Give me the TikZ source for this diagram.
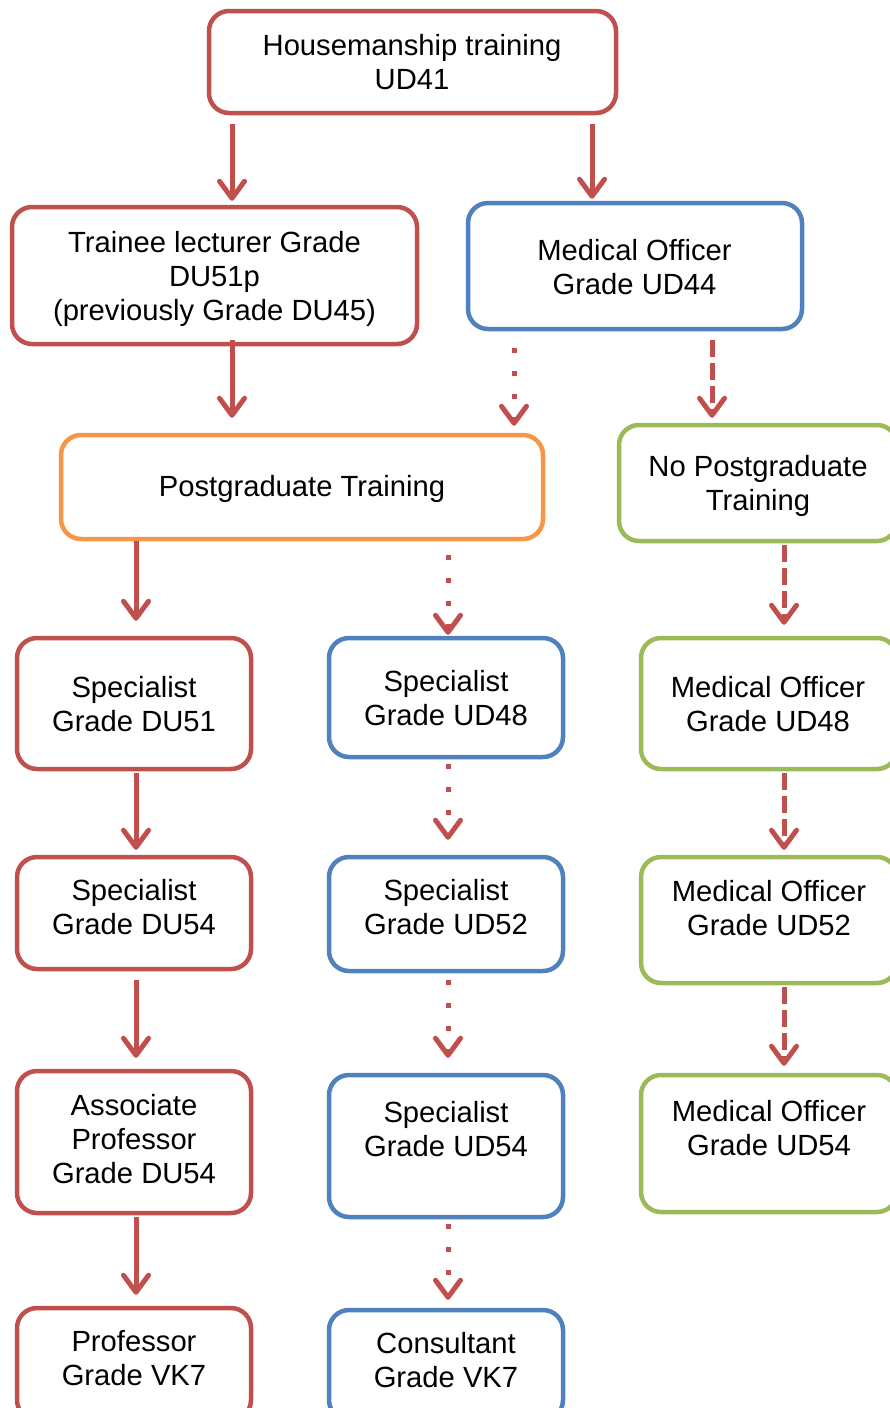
\documentclass[tikz,border=0pt]{standalone}
\usepackage{fontspec}
\setmainfont{Liberation Sans}
\usetikzlibrary{arrows.meta}
\definecolor{boxred}{HTML}{C0504D}
\definecolor{boxblue}{HTML}{4F81BD}
\definecolor{boxorange}{HTML}{F79646}
\definecolor{boxgreen}{HTML}{9BBB59}
\definecolor{linkred}{HTML}{C0504D}
\tikzset{
  gradebox/.style={draw=#1, line width=4.5pt, rounded corners=20pt, fill=white, inner sep=0pt},
  gradetext/.style={align=center, inner sep=0pt, text=black, font=\fontsize{29.2}{34}\selectfont},
  link/.style={draw=linkred, line width=5pt,
    -{Straight Barb[length=17pt,width=25pt,line cap=round,line join=round]}},
  solidlink/.style={link},
  dottedlink/.style={link, dash pattern=on 5pt off 18pt},
  dashedlink/.style={link, dash pattern=on 17pt off 6pt},
}
\begin{document}
\begin{tikzpicture}[x=1pt, y=-1pt]
\useasboundingbox (0,0) rectangle (890,1408);
\clip (0,0) rectangle (890,1408);

% ---- boxes ----
\node[gradebox=boxred,    minimum width=407pt, minimum height=102pt] (hm)    at (412.5,62)   {};
\node[gradebox=boxred,    minimum width=405pt, minimum height=137pt] (tr)    at (214.5,275.5) {};
\node[gradebox=boxblue,   minimum width=334pt, minimum height=126pt] (mo44)  at (635,266)    {};
\node[gradebox=boxorange, minimum width=482pt, minimum height=104pt] (pg)    at (302,487)    {};
\node[gradebox=boxgreen,  minimum width=278pt, minimum height=116pt] (npg)   at (758,483)    {};

\node[gradebox=boxred,    minimum width=234pt, minimum height=131pt] (du51)  at (134,703.5)  {};
\node[gradebox=boxblue,   minimum width=234pt, minimum height=119pt] (ud48)  at (446,697.5)  {};
\node[gradebox=boxgreen,  minimum width=256pt, minimum height=131pt] (mo48)  at (769,703.5)  {};

\node[gradebox=boxred,    minimum width=234pt, minimum height=112pt] (du54)  at (134,913)    {};
\node[gradebox=boxblue,   minimum width=234pt, minimum height=114pt] (ud52)  at (446,914)    {};
\node[gradebox=boxgreen,  minimum width=256pt, minimum height=126pt] (mo52)  at (769,920)    {};

\node[gradebox=boxred,    minimum width=234pt, minimum height=142pt] (assoc) at (134,1142)   {};
\node[gradebox=boxblue,   minimum width=234pt, minimum height=142pt] (ud54)  at (446,1146)   {};
\node[gradebox=boxgreen,  minimum width=256pt, minimum height=137pt] (mo54)  at (769,1143.5) {};

\node[gradebox=boxred,    minimum width=234pt, minimum height=112pt] (prof)  at (134,1364)   {};
\node[gradebox=boxblue,   minimum width=234pt, minimum height=110pt] (cons)  at (446,1365)   {};

% ---- box texts ----
\node[gradetext] (hm-t)    at (412,66)     {\strut Housemanship training\\\strut UD41};
\node[gradetext] (tr-t)    at (214.5,279.5){\strut Trainee lecturer Grade\\\strut DU51p\\\strut (previously Grade DU45)};
\node[gradetext] (mo44-t)  at (634.5,270.5){\strut Medical Officer\\\strut Grade UD44};
\node[gradetext] (pg-t)    at (302,490)    {\strut Postgraduate Training};
\node[gradetext] (npg-t)   at (758,487)    {\strut No Postgraduate\\\strut Training};
\node[gradetext] (du51-t)  at (134,708)    {\strut Specialist\\\strut Grade DU51};
\node[gradetext] (ud48-t)  at (446,702)    {\strut Specialist\\\strut Grade UD48};
\node[gradetext] (mo48-t)  at (768,708)    {\strut Medical Officer\\\strut Grade UD48};
\node[gradetext] (du54-t)  at (134,910.5)  {\strut Specialist\\\strut Grade DU54};
\node[gradetext] (ud52-t)  at (446,910.5)  {\strut Specialist\\\strut Grade UD52};
\node[gradetext] (mo52-t)  at (769,912)    {\strut Medical Officer\\\strut Grade UD52};
\node[gradetext] (assoc-t) at (134,1143)   {\strut Associate\\\strut Professor\\\strut Grade DU54};
\node[gradetext] (ud54-t)  at (446,1133)   {\strut Specialist\\\strut Grade UD54};
\node[gradetext] (mo54-t)  at (769,1131.5) {\strut Medical Officer\\\strut Grade UD54};
\node[gradetext] (prof-t)  at (134,1362)   {\strut Professor\\\strut Grade VK7};
\node[gradetext] (cons-t)  at (446,1364)   {\strut Consultant\\\strut Grade VK7};

% ---- connectors ----
\draw[solidlink,  shorten <=9pt,  shorten >=4pt]  (hm.south -| 232,0)   -- (tr.north -| 232,0);
\draw[solidlink,  shorten <=9pt,  shorten >=2pt]  (hm.south -| 592,0)   -- (mo44.north -| 592,0);
\draw[solidlink,  shorten <=-6pt, shorten >=15pt] (tr.south -| 232,0)   -- (pg.north -| 232,0);
\draw[dottedlink, shorten <=17pt, shorten >=7pt]  (mo44.south -| 514,0) -- (pg.north -| 514,0);
\draw[dashedlink, shorten <=9pt,  shorten >=5pt]  (mo44.south -| 712,0) -- (npg.north -| 712,0);

\draw[solidlink,  shorten <=0pt,  shorten >=15pt] (pg.south -| 136,0)   -- (du51.north -| 136,0);
\draw[dottedlink, shorten <=14pt, shorten >=1pt]  (pg.south -| 448,0)   -- (ud48.north -| 448,0);
\draw[dashedlink, shorten <=2pt,  shorten >=11pt] (npg.south -| 784,0)  -- (mo48.north -| 784,0);

\draw[solidlink,  shorten <=2pt,  shorten >=5pt]  (du51.south -| 136,0) -- (du54.north -| 136,0);
\draw[dottedlink, shorten <=5pt,  shorten >=15pt] (ud48.south -| 448,0) -- (ud52.north -| 448,0);
\draw[dashedlink, shorten <=2pt,  shorten >=5pt]  (mo48.south -| 784,0) -- (mo52.north -| 784,0);

\draw[solidlink,  shorten <=9pt,  shorten >=11pt] (du54.south -| 136,0) -- (assoc.north -| 136,0);
\draw[dottedlink, shorten <=7pt,  shorten >=15pt] (ud52.south -| 448,0) -- (ud54.north -| 448,0);
\draw[dashedlink, shorten <=2pt,  shorten >=7pt]  (mo52.south -| 784,0) -- (mo54.north -| 784,0);

\draw[solidlink,  shorten <=2pt,  shorten >=11pt] (assoc.south -| 136,0) -- (prof.north -| 136,0);
\draw[dottedlink, shorten <=5pt,  shorten >=8pt]  (ud54.south -| 448,0)  -- (cons.north -| 448,0);
\end{tikzpicture}
\end{document}
